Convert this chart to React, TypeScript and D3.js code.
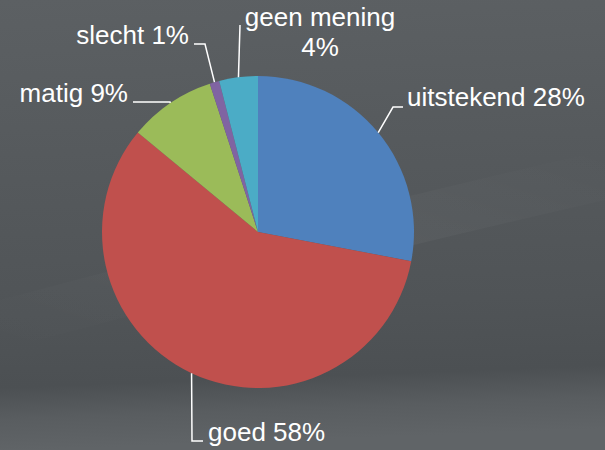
import React from "react";
import * as d3 from "d3";

const categories = ["uitstekend", "goed", "matig", "slecht", "geen mening"];
const values = [28, 58, 9, 1, 4];
const labels = ["uitstekend 28%", "goed 58%", "matig 9%", "slecht 1%", "geen mening|4%"];
const colors = ["#4f81bd", "#c0504d", "#9bbb59", "#8064a2", "#4bacc6"];

// leader elbow / label layout
type Lay = { elbow: [number, number]; end: [number, number]; tx: number; ty: number; anchor: string };
const layout: Lay[] = [
  { elbow: [393, 107], end: [403, 107], tx: 407, ty: 106, anchor: "start" },
  { elbow: [192, 441], end: [203, 441], tx: 208, ty: 441, anchor: "start" },
  { elbow: [170, 102], end: [133, 102], tx: 128, ty: 102, anchor: "end" },
  { elbow: [205, 44], end: [194, 44], tx: 189, ty: 44, anchor: "end" },
  { elbow: [240, 25], end: [240, 25], tx: 320, ty: 26, anchor: "middle" },
];

const W = 605;
const H = 450;
const cx = 258;
const cy = 232;
const R = 156;

export default function App() {
  const pie = d3.pie<number>().sort(null).value((d) => d)(values);
  const arc = d3.arc<d3.PieArcDatum<number>>().innerRadius(0).outerRadius(R);

  return (
    <svg width={W} height={H} style={{ position: "absolute", left: 0, top: 0, display: "block" }}>
      <defs>
        <linearGradient id="bg" x1="0" y1="0" x2="0.05" y2="1">
          <stop offset="0" stopColor="#5c6063" />
          <stop offset="0.4" stopColor="#55595c" />
          <stop offset="0.7" stopColor="#505457" />
          <stop offset="0.86" stopColor="#4c5053" />
          <stop offset="0.93" stopColor="#595d60" />
          <stop offset="1" stopColor="#606467" />
        </linearGradient>
        <linearGradient id="streak" x1="0" y1="1" x2="1" y2="0">
          <stop offset="0" stopColor="#ffffff" stopOpacity="0" />
          <stop offset="0.6" stopColor="#ffffff" stopOpacity="0.035" />
          <stop offset="1" stopColor="#ffffff" stopOpacity="0" />
        </linearGradient>
      </defs>
      <rect width={W} height={H} fill="url(#bg)" />
      <path d="M0,300 Q300,220 605,150 L605,200 Q300,270 0,350 Z" fill="url(#streak)" />
      <g transform={`translate(${cx},${cy})`}>
        {pie.map((d, i) => (
          <path key={categories[i]} d={arc(d) || ""} fill={colors[i]} />
        ))}
      </g>
      {pie.map((d, i) => {
        const a = (d.startAngle + d.endAngle) / 2;
        const sx = cx + R * Math.sin(a);
        const sy = cy - R * Math.cos(a);
        const L = layout[i];
        const pts = `${sx},${sy} ${L.elbow[0]},${L.elbow[1]} ${L.end[0]},${L.end[1]}`;
        const lines = labels[i].split("|");
        return (
          <g key={"l" + i}>
            <polyline points={pts} fill="none" stroke="#ffffff" strokeWidth={1.5} />
            <text
              x={L.tx}
              y={L.ty}
              textAnchor={L.anchor as any}
              fill="#ffffff"
              fontFamily="'Liberation Sans', Arial, sans-serif"
              fontSize={26}
            >
              {lines.map((t, k) => (
                <tspan key={k} x={L.tx} dy={k === 0 ? 0 : 30}>
                  {t}
                </tspan>
              ))}
            </text>
          </g>
        );
      })}
    </svg>
  );
}
